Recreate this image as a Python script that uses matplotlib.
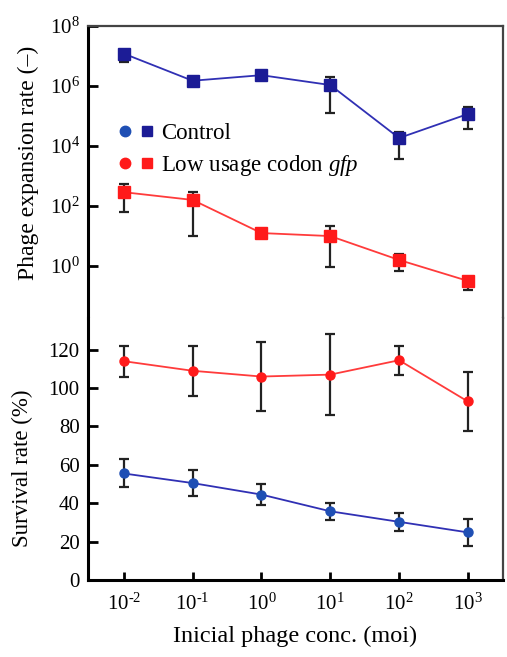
import matplotlib
matplotlib.use('Agg')
import matplotlib.pyplot as plt
import numpy as np
from matplotlib.lines import Line2D
from matplotlib.legend_handler import HandlerTuple
from matplotlib.ticker import FixedLocator, FuncFormatter

plt.rcParams['font.family'] = ['Liberation Serif', 'DejaVu Serif']
plt.rcParams['mathtext.fontset'] = 'custom'
plt.rcParams['mathtext.rm'] = 'Liberation Serif'
plt.rcParams['mathtext.it'] = 'Liberation Serif:italic'

# --- data ---
moi = [1e-2, 1e-1, 1e0, 1e1, 1e2, 1e3]

# phage expansion rate (log scale), with lower / upper error bounds
ctrl_exp = [1.2e7, 1.5e6, 2.3e6, 1.08e6, 1.85e4, 1.17e5]
ctrl_exp_lo = [6.5e6, 1.3e6, 2.0e6, 1.26e5, 3.7e3, 3.7e4]
ctrl_exp_hi = [1.6e7, 1.7e6, 2.6e6, 2.0e6, 2.9e4, 2.0e5]

low_exp = [290, 160, 12.6, 10, 1.6, 0.32]
low_exp_lo = [63, 10, 11, 0.93, 0.68, 0.16]
low_exp_hi = [540, 290, 14, 21, 2.5, 0.43]

# survival rate (%)
ctrl_surv = [55.5, 50.5, 44.5, 35.8, 30.3, 24.8]
ctrl_surv_err = [7.3, 6.8, 5.4, 4.4, 4.6, 7.1]
low_surv = [114, 109, 106, 107, 114.5, 93]
low_surv_err = [8, 13, 18, 21, 7.5, 15.5]

blue_sq = '#1c1c96'
blue_line = '#3030b4'
blue_dot = '#1f4fb4'
red = '#ff1a1a'
red_line = '#ff3b3b'


def pow10(v, pos=None):
    n = int(round(np.log10(v)))
    if n < 0:
        return r'$10^{\text{-}%d}$' % (-n)
    return r'$10^{%d}$' % n


fig = plt.figure(figsize=(5.07, 6.57), dpi=100)
W, H = 507, 657
left, right = 88, 503
top, mid, bottom = 26, 318, 580
ax1 = fig.add_axes([left / W, 1 - mid / H, (right - left) / W, (mid - top) / H])
ax2 = fig.add_axes([left / W, 1 - bottom / H, (right - left) / W, (bottom - mid) / H])

xlim = (10 ** -2.52, 10 ** 3.51)

# ---- top: expansion rate ----
ax1.set_xscale('log')
ax1.set_yscale('log')
ax1.set_xlim(*xlim)
ax1.set_ylim(10 ** -1.73, 1e8)

for y, lo, hi, mc, lc in [(ctrl_exp, ctrl_exp_lo, ctrl_exp_hi, blue_sq, blue_line),
                          (low_exp, low_exp_lo, low_exp_hi, red, red_line)]:
    y = np.array(y)
    yerr = [y - np.array(lo), np.array(hi) - y]
    ax1.errorbar(moi, y, yerr=yerr, fmt='none', ecolor='#222222', elinewidth=1.6,
                 capsize=3.5, capthick=1.6, zorder=2)
    ax1.plot(moi, y, '-', color=lc, lw=1.3, zorder=3)
    ax1.plot(moi, y, 's', color=mc, ms=8.5, zorder=4)

ax1.yaxis.set_major_locator(FixedLocator([1e0, 1e2, 1e4, 1e6, 1e8]))
ax1.yaxis.set_minor_locator(FixedLocator([]))
ax1.yaxis.set_major_formatter(FuncFormatter(pow10))
ax1.set_xticks([])
ax1.xaxis.set_minor_locator(FixedLocator([]))
ax1.set_ylabel('Phage expansion rate (–)', fontsize=17)
ax1.yaxis.set_label_coords(-0.118, 0.53)

ax1.spines['bottom'].set_visible(False)
ax1.spines['left'].set_linewidth(2.2)
ax1.spines['left'].set_color('black')
ax1.spines['top'].set_linewidth(1.6)
ax1.spines['top'].set_color('#444444')
ax1.spines['right'].set_linewidth(1.6)
ax1.spines['right'].set_color('#444444')
ax1.tick_params(axis='y', direction='in', length=7, width=2, labelsize=15, pad=6)

# legend
h_ctrl = (Line2D([], [], ls='none', marker='o', color=blue_dot, ms=7.5),
          Line2D([], [], ls='none', marker='s', color=blue_sq, ms=7))
h_low = (Line2D([], [], ls='none', marker='o', color=red, ms=7.5),
         Line2D([], [], ls='none', marker='s', color=red, ms=7))
ax1.legend([h_ctrl, h_low], ['Control', r'Low usage codon $\mathit{gfp}$'],
           handler_map={tuple: HandlerTuple(ndivide=None, pad=0.5)},
           loc='upper left', bbox_to_anchor=(0.055, 0.70), frameon=False,
           fontsize=16.5, handlelength=1.4, handletextpad=0.4, labelspacing=0.4,
           borderaxespad=0)

# ---- bottom: survival rate ----
ax2.set_xscale('log')
ax2.set_xlim(*xlim)
ax2.set_ylim(0, 136.5)

for y, e, mc, lc in [(low_surv, low_surv_err, red, red_line),
                     (ctrl_surv, ctrl_surv_err, blue_dot, blue_line)]:
    ax2.errorbar(moi, y, yerr=e, fmt='none', ecolor='#222222', elinewidth=1.6,
                 capsize=3.5, capthick=1.6, zorder=2)
    ax2.plot(moi, y, '-', color=lc, lw=1.3, zorder=3)
    ax2.plot(moi, y, 'o', color=mc, ms=6.5, zorder=4)

ax2.set_yticks([0, 20, 40, 60, 80, 100, 120])
ax2.set_xticks(moi)
ax2.xaxis.set_minor_locator(FixedLocator([]))
ax2.set_xticklabels([pow10(v) for v in moi])
ax2.set_ylabel('Survival rate (%)', fontsize=16.5)
ax2.yaxis.set_label_coords(-0.133, 0.427)
ax2.set_xlabel('Inicial phage conc. (moi)', fontsize=17.5, labelpad=8)

ax2.spines['top'].set_visible(False)
ax2.spines['left'].set_linewidth(2.2)
ax2.spines['bottom'].set_linewidth(2.2)
ax2.spines['right'].set_linewidth(1.6)
ax2.spines['right'].set_color('#444444')
ax2.tick_params(axis='y', direction='in', length=7, width=2, labelsize=15, pad=6)
ax2.tick_params(axis='x', direction='in', length=6, width=2, labelsize=15, pad=10)

fig.savefig('out.png', dpi=100)
